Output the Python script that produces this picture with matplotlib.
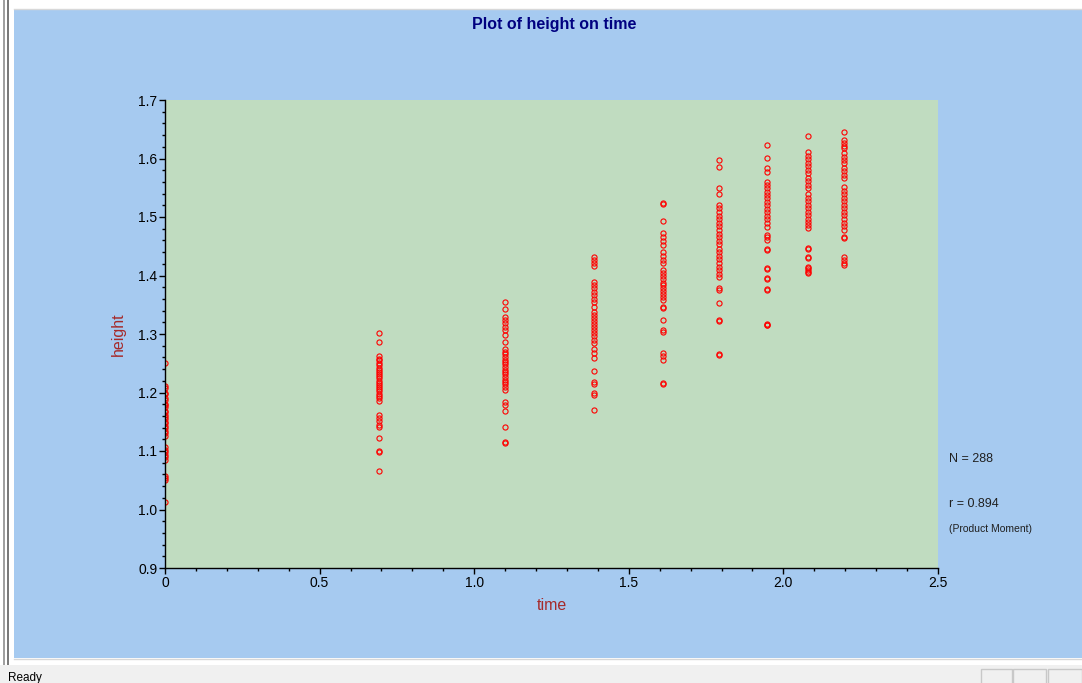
import matplotlib
matplotlib.use("Agg")
import matplotlib.pyplot as plt
from matplotlib.patches import Rectangle
from matplotlib.ticker import MultipleLocator

W, H = 1082, 683

# 32 children measured at each age; time = log(age)
time_points = [0.0, 0.6931, 1.0986, 1.3863, 1.6094, 1.7918, 1.9459, 2.0794, 2.1972]

height_t1 = [1.251, 1.211, 1.207, 1.200, 1.197, 1.190, 1.188, 1.181, 1.178, 1.175, 1.169,
             1.166, 1.162, 1.158, 1.155, 1.150, 1.148, 1.142, 1.139, 1.134, 1.130, 1.126,
             1.107, 1.102, 1.098, 1.094, 1.089, 1.085, 1.057, 1.053, 1.050, 1.012]
height_t2 = [1.301, 1.287, 1.262, 1.258, 1.255, 1.251, 1.247, 1.242, 1.239, 1.235, 1.231,
             1.228, 1.224, 1.220, 1.216, 1.213, 1.209, 1.206, 1.202, 1.198, 1.194, 1.190,
             1.185, 1.162, 1.157, 1.151, 1.145, 1.141, 1.122, 1.100, 1.098, 1.066]
height_t3 = [1.355, 1.343, 1.329, 1.324, 1.318, 1.312, 1.306, 1.299, 1.286, 1.274, 1.270,
             1.265, 1.261, 1.256, 1.252, 1.248, 1.243, 1.239, 1.235, 1.231, 1.226, 1.222,
             1.218, 1.214, 1.209, 1.205, 1.183, 1.178, 1.168, 1.141, 1.116, 1.114]
height_t4 = [1.431, 1.426, 1.421, 1.416, 1.389, 1.384, 1.378, 1.372, 1.366, 1.360, 1.354,
             1.347, 1.338, 1.333, 1.328, 1.322, 1.317, 1.312, 1.306, 1.301, 1.296, 1.290,
             1.285, 1.274, 1.268, 1.259, 1.236, 1.218, 1.214, 1.199, 1.196, 1.170]
height_t5 = [1.524, 1.522, 1.493, 1.473, 1.466, 1.459, 1.452, 1.440, 1.434, 1.427, 1.421,
             1.409, 1.404, 1.399, 1.394, 1.388, 1.383, 1.378, 1.373, 1.368, 1.363, 1.358,
             1.347, 1.345, 1.324, 1.306, 1.303, 1.268, 1.262, 1.256, 1.217, 1.215]
height_t6 = [1.597, 1.586, 1.549, 1.539, 1.521, 1.515, 1.509, 1.502, 1.496, 1.490, 1.484,
             1.478, 1.471, 1.465, 1.459, 1.453, 1.446, 1.440, 1.434, 1.428, 1.421, 1.415,
             1.409, 1.403, 1.397, 1.378, 1.376, 1.353, 1.324, 1.322, 1.266, 1.264]
height_t7 = [1.623, 1.601, 1.584, 1.577, 1.560, 1.555, 1.549, 1.543, 1.537, 1.532, 1.526,
             1.520, 1.514, 1.508, 1.502, 1.496, 1.490, 1.483, 1.469, 1.465, 1.461, 1.445,
             1.443, 1.413, 1.411, 1.396, 1.394, 1.377, 1.375, 1.317, 1.316, 1.315]
height_t8 = [1.638, 1.611, 1.605, 1.599, 1.593, 1.587, 1.581, 1.575, 1.567, 1.561, 1.555,
             1.550, 1.539, 1.533, 1.527, 1.521, 1.515, 1.509, 1.503, 1.497, 1.492, 1.487,
             1.481, 1.447, 1.445, 1.432, 1.430, 1.415, 1.412, 1.409, 1.406, 1.404]
height_t9 = [1.645, 1.632, 1.627, 1.622, 1.618, 1.609, 1.603, 1.597, 1.592, 1.584, 1.578,
             1.572, 1.567, 1.551, 1.545, 1.539, 1.533, 1.527, 1.521, 1.515, 1.509, 1.503,
             1.497, 1.490, 1.485, 1.478, 1.466, 1.464, 1.432, 1.427, 1.422, 1.418]

heights = [height_t1, height_t2, height_t3, height_t4, height_t5,
           height_t6, height_t7, height_t8, height_t9]
r_value = 0.894

BLUE = "#a6caf0"
GREEN = "#c0dcc0"
DARKRED = "#a52a2a"
FONT = "Liberation Sans"


def fx(px):
    return px / W


def fy(py):
    return 1 - py / H


def rect(fig, x0, y0, x1, y1, **kw):
    fig.add_artist(Rectangle((fx(x0), fy(y1)), fx(x1) - fx(x0), fy(y0) - fy(y1),
                             transform=fig.transFigure, zorder=-10, **kw))


def hline(fig, x0, x1, py, color):
    fig.add_artist(plt.Line2D([fx(x0), fx(x1)], [fy(py), fy(py)], color=color, lw=1,
                              transform=fig.transFigure, zorder=-9))


fig = plt.figure(figsize=(W / 100, H / 100), dpi=100)
fig.patch.set_facecolor("white")

# window chrome
rect(fig, 14, 9, 1082, 658, facecolor=BLUE, edgecolor="none")
hline(fig, 14, 1082, 8.5, "#d8d8d8")
hline(fig, 14, 1082, 658.5, "#d8d8d8")
rect(fig, 3, 0, 5, 665, facecolor="#a0a0a0", edgecolor="none")
rect(fig, 7, 0, 9, 665, facecolor="#7a7a7a", edgecolor="none")
rect(fig, 0, 665, 1082, 683, facecolor="#f0f0f0", edgecolor="none")
for x0, x1 in [(981, 1012), (1013, 1046), (1048, 1082)]:
    rect(fig, x0, 669, x1, 690, facecolor="none", edgecolor="#c8c8c8", lw=1)
fig.text(fx(8), fy(678), "Ready", fontsize=8.5, family=FONT, color="#000000",
         ha="left", va="center")

# plot region
ax = fig.add_axes([fx(165), fy(568), fx(938) - fx(165), fy(100) - fy(568)])
ax.set_facecolor(GREEN)
for t, h in zip(time_points, heights):
    ax.plot([t] * len(h), h, linestyle="none", marker="o", ms=3.7,
            mfc="none", mec="#ff0000", mew=0.8)

ax.set_xlim(0, 2.5)
ax.set_ylim(0.9, 1.7)
ax.xaxis.set_minor_locator(MultipleLocator(0.1))
ax.yaxis.set_minor_locator(MultipleLocator(0.02))
ax.set_xticks([0, 0.5, 1.0, 1.5, 2.0, 2.5])
ax.set_xticklabels(["0", "0.5", "1.0", "1.5", "2.0", "2.5"])
ax.set_yticks([0.9, 1.0, 1.1, 1.2, 1.3, 1.4, 1.5, 1.6, 1.7])
ax.set_yticklabels(["0.9", "1.0", "1.1", "1.2", "1.3", "1.4", "1.5", "1.6", "1.7"])
for side in ("top", "right"):
    ax.spines[side].set_visible(False)
for side in ("left", "bottom"):
    ax.spines[side].set_color("#000000")
    ax.spines[side].set_linewidth(1)
ax.tick_params(which="major", direction="out", length=4, width=1, color="#000000",
               labelsize=10, pad=1.5)
ax.tick_params(which="minor", direction="out", length=2.2, width=1, color="#000000")
for lbl in ax.get_xticklabels() + ax.get_yticklabels():
    lbl.set_family(FONT)
    lbl.set_color("#000000")

ax.set_xlabel("time", fontsize=11.5, family=FONT, color=DARKRED, labelpad=6)
ax.set_ylabel("height", fontsize=11.5, family=FONT, color=DARKRED, labelpad=9)

fig.text(fx(554), fy(24), "Plot of height on time", fontsize=11.5, family=FONT,
         weight="bold", color="#000080", ha="center", va="center")

n_total = sum(len(h) for h in heights)
fig.text(fx(949), fy(459), f"N = {n_total}", fontsize=9, family=FONT,
         color="#202020", ha="left", va="center")
fig.text(fx(949), fy(504), f"r = {r_value:.3f}", fontsize=9, family=FONT,
         color="#202020", ha="left", va="center")
fig.text(fx(949), fy(529), "(Product Moment)", fontsize=7.5, family=FONT,
         color="#202020", ha="left", va="center")

fig.savefig("out.png", dpi=100, facecolor=fig.get_facecolor())
